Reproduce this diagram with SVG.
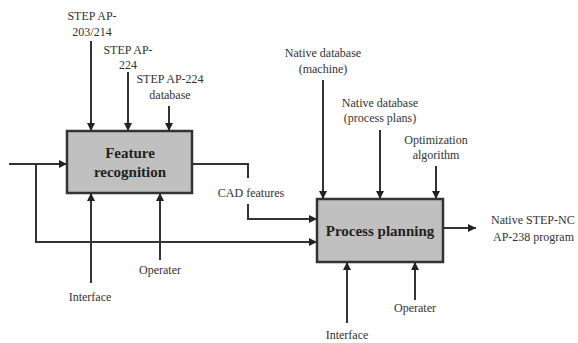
<svg xmlns="http://www.w3.org/2000/svg" width="578" height="343" viewBox="0 0 578 343">
<style>
.box{fill:#c0c0c0;stroke:#333;stroke-width:2.5}
.ln{fill:none;stroke:#333;stroke-width:2}
text{font-family:'Liberation Serif','Times New Roman',Times,'DejaVu Serif',serif}
.lbl{font-size:12px;fill:#333;text-anchor:middle}
.ttl{font-size:15px;font-weight:bold;fill:#222;text-anchor:middle}
</style>
<defs>
<marker id="ah" viewBox="0 0 10 10" refX="10" refY="5" markerWidth="4" markerHeight="4" orient="auto" markerUnits="strokeWidth">
<path d="M0,0 L10,5 L0,10 z" fill="#222"/>
</marker>
</defs>
<rect width="578" height="343" fill="#fff"/>
<g id="connectors">
<path class="ln" d="M91,41 V131" marker-end="url(#ah)"/>
<path class="ln" d="M128,72 V131" marker-end="url(#ah)"/>
<path class="ln" d="M169,106 V131" marker-end="url(#ah)"/>
<path class="ln" d="M9,164 H67" marker-end="url(#ah)"/>
<path class="ln" d="M36,164 V242 H317" marker-end="url(#ah)"/>
<path class="ln" d="M192,164 H248 V178"/>
<path class="ln" d="M248,204 V219 H317" marker-end="url(#ah)"/>
<path class="ln" d="M91,283 V193" marker-end="url(#ah)"/>
<path class="ln" d="M160,260 V193" marker-end="url(#ah)"/>
<path class="ln" d="M323,80 V199" marker-end="url(#ah)"/>
<path class="ln" d="M380,130 V199" marker-end="url(#ah)"/>
<path class="ln" d="M436,166 V199" marker-end="url(#ah)"/>
<path class="ln" d="M443,228 H476" marker-end="url(#ah)"/>
<path class="ln" d="M347,323 V262" marker-end="url(#ah)"/>
<path class="ln" d="M415,300 V262" marker-end="url(#ah)"/>
</g>
<g id="feature-recognition">
<rect class="box" x="67" y="131" width="125" height="62"/>
<text class="ttl" x="130" y="158">Feature</text>
<text class="ttl" x="130" y="177">recognition</text>
</g>
<g id="process-planning">
<rect class="box" x="317" y="199" width="126" height="63"/>
<text class="ttl" x="380" y="236">Process planning</text>
</g>
<g id="labels">
<text class="lbl" x="92" y="20">STEP AP-</text>
<text class="lbl" x="92" y="36">203/214</text>
<text class="lbl" x="128" y="54">STEP AP-</text>
<text class="lbl" x="128" y="69">224</text>
<text class="lbl" x="170" y="83">STEP AP-224</text>
<text class="lbl" x="170" y="99">database</text>
<text class="lbl" x="251" y="197">CAD features</text>
<text class="lbl" x="90" y="301">Interface</text>
<text class="lbl" x="160" y="274">Operater</text>
<text class="lbl" x="323" y="57">Native database</text>
<text class="lbl" x="323" y="73">(machine)</text>
<text class="lbl" x="380" y="107">Native database</text>
<text class="lbl" x="380" y="122">(process plans)</text>
<text class="lbl" x="436" y="144">Optimization</text>
<text class="lbl" x="436" y="159">algorithm</text>
<text class="lbl" x="347" y="339">Interface</text>
<text class="lbl" x="415" y="312">Operater</text>
<text class="lbl" x="491" y="224" style="text-anchor:start">Native STEP-NC</text>
<text class="lbl" x="493" y="241" style="text-anchor:start">AP-238 program</text>
</g>
</svg>
